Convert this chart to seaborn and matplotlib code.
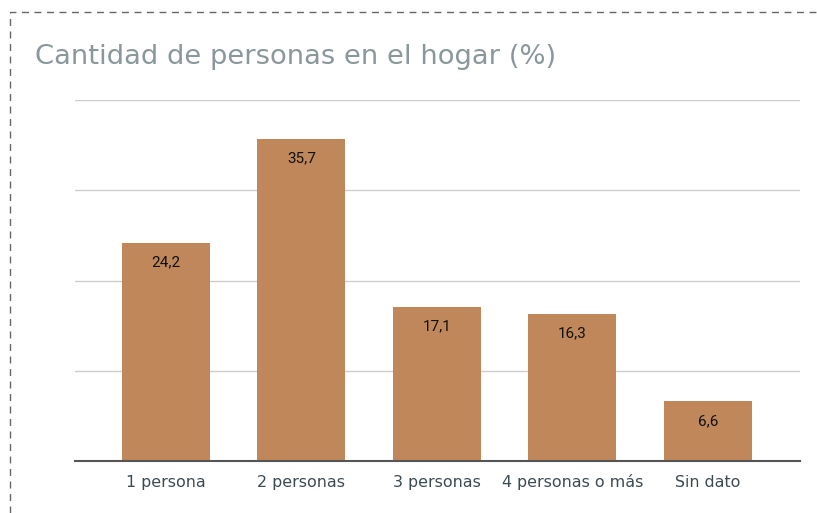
import matplotlib
matplotlib.use("Agg")
import matplotlib.pyplot as plt
import seaborn as sns
import pandas as pd
from matplotlib.lines import Line2D

categorias = ["1 persona", "2 personas", "3 personas", "4 personas o más", "Sin dato"]
porcentajes = [24.2, 35.7, 17.1, 16.3, 6.6]
etiquetas = ["24,2", "35,7", "17,1", "16,3", "6,6"]

BAR_COLOR = "#c0875a"

sns.set_theme(style="white")
plt.rcParams["font.family"] = ["DejaVu Sans"]

df = pd.DataFrame({"cat": categorias, "val": porcentajes})

fig = plt.figure(figsize=(8.17, 5.13), dpi=100)
ax = fig.add_axes([75 / 817, 52 / 513, 725 / 817, 361 / 513])

sns.barplot(data=df, x="cat", y="val", color=BAR_COLOR, saturation=1,
            width=0.65, ax=ax, edgecolor="none")

ax.set_ylim(0, 40)
ax.set_xlim(-0.67, 4.68)
ax.set_yticks([0, 10, 20, 30, 40])
ax.set_yticklabels([])
ax.tick_params(axis="y", length=0)
ax.tick_params(axis="x", length=0, labelsize=11.4, labelcolor="#3c4a52", pad=19)
for lbl in ax.get_xticklabels():
    lbl.set_va("baseline")
ax.grid(axis="y", color="#cccccc", linewidth=1)
ax.set_axisbelow(True)
for s in ["top", "right", "left"]:
    ax.spines[s].set_visible(False)
ax.spines["bottom"].set_color("#555555")
ax.spines["bottom"].set_linewidth(1.5)
ax.set_xlabel("")
ax.set_ylabel("")

ax.bar_label(ax.containers[0], labels=etiquetas, padding=-19,
             fontsize=11, color="#111111", family="Roboto")

fig.text(35 / 817, 1 - 57 / 513, "Cantidad de personas en el hogar (%)",
         fontsize=19.7, color="#8a979b", va="center", ha="left")

# dashed frame (left and top)
x0 = 10 / 817
y0 = 1 - 12 / 513
fig.add_artist(Line2D([x0, x0, 1.0], [0, y0, y0], transform=fig.transFigure,
                      color="#666666", linewidth=1, linestyle=(0, (5, 4))))

fig.savefig("out.png", dpi=100)
